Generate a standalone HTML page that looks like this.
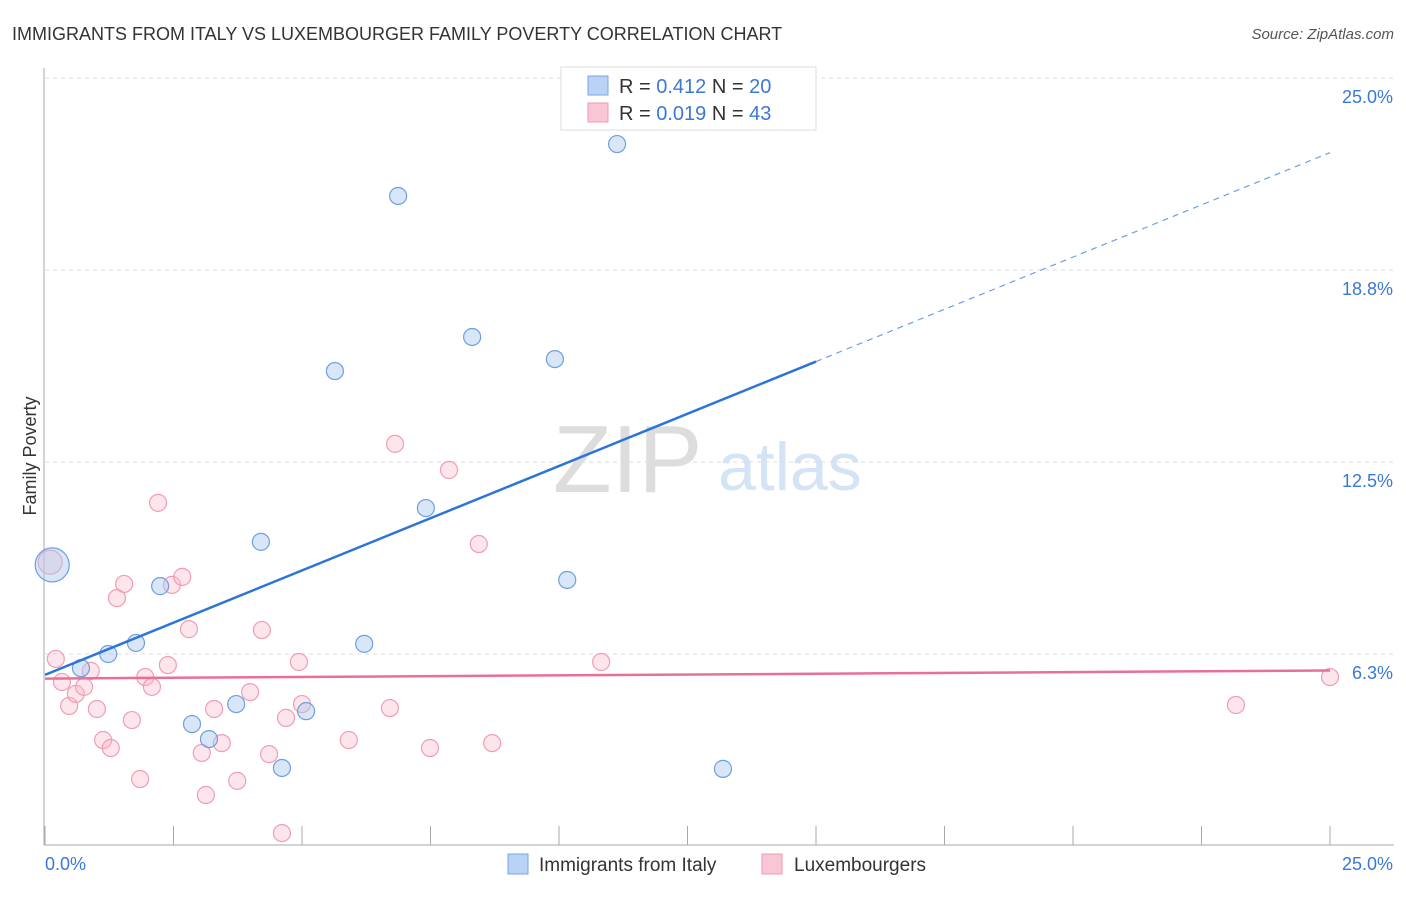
<!DOCTYPE html>
<html><head><meta charset="utf-8"><style>
body{margin:0;background:#fff;font-family:"Liberation Sans",sans-serif;}
svg text{font-family:"Liberation Sans",sans-serif;}
</style></head><body>
<svg id="chart" width="1406" height="892">
<text x="12" y="40" font-size="18" fill="#333">IMMIGRANTS FROM ITALY VS LUXEMBOURGER FAMILY POVERTY CORRELATION CHART</text>
<text x="1394" y="39" font-size="15" fill="#555" font-style="italic" text-anchor="end">Source: ZipAtlas.com</text>
<text x="36" y="456" font-size="18" fill="#333" text-anchor="middle" transform="rotate(-90 36 456)">Family Poverty</text>
<text x="553" y="492" font-size="96" fill="#ddd" font-family="Liberation Serif">ZIP</text>
<text x="718" y="490" font-size="68" fill="#d4e3f5">atlas</text>
<g id="grid"></g>
<g id="axes"></g>
<g id="marks"></g>
<g>
<rect x="561" y="67" width="255" height="63" fill="#fff" stroke="#ddd"/>
<rect x="588" y="76" width="20" height="19" fill="#b8d3f5" stroke="#7aa7e0"/>
<rect x="588" y="103" width="20" height="19" fill="#f9c6d5" stroke="#ee99b2"/>
<text x="619" y="93" font-size="20" fill="#333">R = <tspan fill="#3a78d8">0.412</tspan>   N = <tspan fill="#3a78d8">20</tspan></text>
<text x="619" y="120" font-size="20" fill="#333">R = <tspan fill="#3a78d8">0.019</tspan>   N = <tspan fill="#3a78d8">43</tspan></text>
</g>
<g>
<rect x="508" y="854" width="20" height="20" fill="#b8d3f5" stroke="#7aa7e0"/>
<text x="539" y="871" font-size="19" fill="#333">Immigrants from Italy</text>
<rect x="762" y="854" width="20" height="20" fill="#f9c6d5" stroke="#ee99b2"/>
<text x="794" y="871" font-size="19" fill="#333">Luxembourgers</text>
</g>
</svg>
<script>
const yTicks=[6.3,12.5,18.8,25.0];
const xTickLabels=["0.0%","25.0%"];
const italyX=[0.14,0.70,1.23,1.77,2.24,2.86,3.19,3.72,4.20,4.61,5.08,5.64,6.21,6.87,7.41,8.31,9.92,10.16,11.13,13.19];
const italyY=[9.15,5.79,6.25,6.61,8.46,3.97,3.48,4.62,9.90,2.54,4.39,15.46,6.58,21.16,11.00,16.57,15.85,8.66,22.85,2.51];
const luxX=[0.10,0.21,0.33,0.47,0.60,0.76,0.89,1.01,1.13,1.28,1.40,1.54,1.69,1.85,1.95,2.08,2.20,2.39,2.47,2.67,2.80,3.05,3.13,3.29,3.44,3.74,3.99,4.22,4.36,4.61,4.69,4.94,5.00,5.91,6.71,6.81,7.49,7.86,8.44,8.70,10.82,23.17,25.0];
const luxY=[9.24,6.09,5.34,4.56,4.95,5.18,5.70,4.46,3.45,3.19,8.07,8.53,4.10,2.18,5.50,5.18,11.17,5.89,8.50,8.76,7.06,3.03,1.66,4.46,3.35,2.12,5.01,7.03,2.99,0.42,4.17,5.99,4.62,3.45,4.49,13.09,3.19,12.24,9.83,3.35,5.99,4.59,5.50];
const italyTrend=[5.57,0.68];
const luxTrend=[5.45,0.0105];
const NS="http://www.w3.org/2000/svg";
const sx=v=>45+v*51.4, sy=v=>846-v*30.72;
function mk(tag,attrs,parent){const e=document.createElementNS(NS,tag);for(const k in attrs)e.setAttribute(k,attrs[k]);parent.appendChild(e);return e;}
const grid=document.getElementById('grid'),axes=document.getElementById('axes'),marks=document.getElementById('marks');
yTicks.forEach(t=>{
 const y=t===25.0?78:sy(t===6.3?6.25:t===18.8?18.75:t);
 const l=mk('line',{x1:45,x2:1394,y1:y,y2:y,stroke:'#ddd','stroke-dasharray':'4,4'},grid);
 
 
 const tx=mk('text',{x:1393,y:y+25,'font-size':18,fill:'#3a78d8','text-anchor':'end'},grid);
 tx.textContent=t.toFixed(1)+'%';
 
 
});
mk('line',{x1:44,x2:44,y1:68,y2:845,stroke:'#aaa'},axes);
mk('line',{x1:44,x2:1394,y1:845,y2:845,stroke:'#aaa'},axes);
for(let i=0;i<=10;i++){const x=sx(i*2.5);const t=mk('line',{x1:x,x2:x,y1:826,y2:845,stroke:'#aaa'},axes);}
const xl0=mk('text',{x:45,y:870,'font-size':18,fill:'#3a78d8'},axes);xl0.textContent=xTickLabels[0];


const xl1=mk('text',{x:1393,y:870,'font-size':18,fill:'#3a78d8','text-anchor':'end'},axes);xl1.textContent=xTickLabels[1];


luxX.forEach((x,i)=>{const c=mk('circle',{cx:sx(x),cy:sy(luxY[i]),r:i===0?12:8.5,fill:'rgba(249,180,200,0.35)',stroke:'#ef9db5','stroke-width':1.2},marks);
 
 });
italyX.forEach((x,i)=>{const c=mk('circle',{cx:sx(x),cy:sy(italyY[i]),r:i===0?17:8.5,fill:'rgba(170,200,240,0.45)',stroke:'#6d9fe0','stroke-width':1.2},marks);
 
 });
const it=v=>italyTrend[0]+italyTrend[1]*v, lt=v=>luxTrend[0]+luxTrend[1]*v;
const l1=mk('line',{x1:sx(0),y1:sy(it(0)),x2:sx(15),y2:sy(it(15)),stroke:'#2b74d8','stroke-width':2.5},marks);


const l2=mk('line',{x1:sx(15),y1:sy(it(15)),x2:sx(25),y2:sy(it(25)),stroke:'#6d9fe0','stroke-width':1.2,'stroke-dasharray':'6,5'},marks);


const l3=mk('line',{x1:sx(0),y1:sy(lt(0)),x2:sx(25),y2:sy(lt(25)),stroke:'#ea6f95','stroke-width':2.5},marks);


</script>
</body></html>
